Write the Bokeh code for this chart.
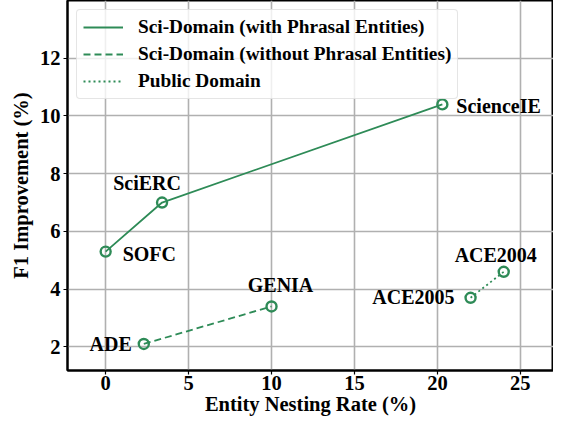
from bokeh.plotting import figure
from bokeh.models import Range1d, FixedTicker, Legend, LegendItem
from bokeh.embed import file_html
from bokeh.resources import INLINE
from bokeh.core.properties import value

# ---- data ----
sci_with_names = ["SOFC", "SciERC", "ScienceIE"]
sci_with_x = [0.0, 3.4, 20.3]
sci_with_y = [5.3, 7.0, 10.4]

sci_without_names = ["ADE", "GENIA"]
sci_without_x = [2.3, 10.0]
sci_without_y = [2.1, 3.4]

public_names = ["ACE2005", "ACE2004"]
public_x = [22.0, 24.0]
public_y = [3.7, 4.6]

x_ticks = [0, 5, 10, 15, 20, 25]
y_ticks = [2, 4, 6, 8, 10, 12]

x_title = "Entity Nesting Rate (%)"
y_title = "F1 Improvement (%)"
legend_labels = ["Sci-Domain (with Phrasal Entities)",
                 "Sci-Domain (without Phrasal Entities)",
                 "Public Domain"]

GREEN = "#2E8B57"
FONT = "Liberation Serif"

p = figure(width=553, height=417, output_backend="svg", toolbar_location=None,
           x_range=Range1d(-2.3, 27.0), y_range=Range1d(1.18, 14.0),
           min_border_left=67, min_border_right=0, min_border_top=0, min_border_bottom=0)

p.outline_line_color = "black"
p.outline_line_width = 2
p.background_fill_color = "white"
p.border_fill_color = "white"

for ax in (p.xaxis[0], p.yaxis[0]):
    ax.axis_line_color = "black"
    ax.axis_line_width = 2
    ax.major_tick_line_color = "black"
    ax.major_tick_line_width = 1.2
    ax.major_tick_out = 4
    ax.major_tick_in = 0
    ax.minor_tick_line_color = None
    ax.major_label_text_font = FONT
    ax.major_label_text_font_style = "bold"
    ax.major_label_text_font_size = "20.5px"
    ax.major_label_text_color = "black"
    ax.axis_label_text_font = FONT
    ax.axis_label_text_font_style = "bold"
    ax.axis_label_text_font_size = "20.5px"
    ax.axis_label_text_color = "black"

p.xaxis.ticker = FixedTicker(ticks=x_ticks)
p.yaxis.ticker = FixedTicker(ticks=y_ticks)
p.xaxis.axis_label = x_title
p.yaxis.axis_label = y_title
p.xaxis.major_label_standoff = 1
p.yaxis.major_label_standoff = 3
p.xaxis.axis_label_standoff = 0
p.yaxis.axis_label_standoff = 5

p.xgrid.grid_line_color = "#b0b0b0"
p.ygrid.grid_line_color = "#b0b0b0"
p.xgrid.grid_line_width = 1.6
p.ygrid.grid_line_width = 1.6

series = [
    (sci_with_x, sci_with_y, "solid"),
    (sci_without_x, sci_without_y, "7 4"),
    (public_x, public_y, "2 3"),
]
line_renderers = []
for xs, ys, dash in series:
    r = p.line(xs, ys, line_color=GREEN, line_width=1.8, line_dash=dash)
    line_renderers.append(r)
    p.scatter(xs, ys, marker="circle", size=10, fill_color="white", fill_alpha=0,
              line_color=GREEN, line_width=2.4)

# labels: (x_offset, y_offset, align)
placement = {
    "SOFC": (17, 2, "left"),
    "SciERC": (-15, -20, "center"),
    "ScienceIE": (14, 2, "left"),
    "ADE": (-12, 0, "right"),
    "GENIA": (9, -21, "center"),
    "ACE2005": (-16, -1, "right"),
    "ACE2004": (-8, -17, "center"),
}
for names, xs, ys in [(sci_with_names, sci_with_x, sci_with_y),
                      (sci_without_names, sci_without_x, sci_without_y),
                      (public_names, public_x, public_y)]:
    for n, xv, yv in zip(names, xs, ys):
        dx, dy, al = placement[n]
        p.text(x=[xv], y=[yv], text=[n], x_offset=dx, y_offset=dy,
               text_align=al, text_baseline="middle",
               text_font=value(FONT), text_font_style="bold",
               text_font_size="20px", text_color="black")

legend = Legend(items=[LegendItem(label=l, renderers=[r])
                       for l, r in zip(legend_labels, line_renderers)],
                location="top_left")
legend.label_text_font = FONT
legend.label_text_font_style = "bold"
legend.label_text_font_size = "19.3px"
legend.label_text_color = "black"
legend.label_text_line_height = 1.0
legend.glyph_width = 40
legend.glyph_height = 20
legend.label_height = 20
legend.spacing = 5
legend.padding = 6
legend.label_standoff = 15
legend.margin = 9
legend.background_fill_alpha = 0.8
legend.border_line_color = "#cccccc"
legend.border_line_width = 1
legend.border_radius = 4
p.add_layout(legend)

open("out.html", "w").write(file_html(p, INLINE))
